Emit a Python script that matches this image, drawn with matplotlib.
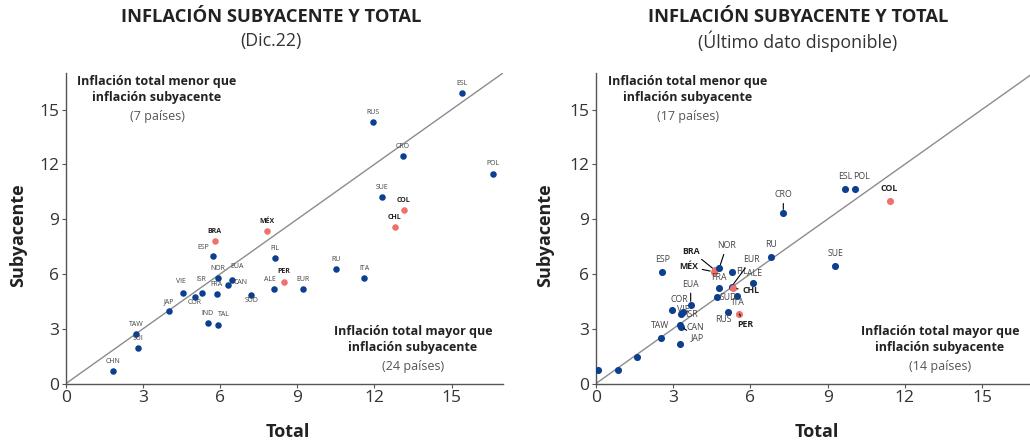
import matplotlib.pyplot as plt

# ---- datos ----
paises_izq = ['ESL', 'RUS', 'CRO', 'POL', 'SUE', 'COL', 'CHL', 'MÉX', 'BRA', 'ESP',
              'FIL', 'RU', 'ITA', 'NOR', 'EUA', 'CAN', 'PER', 'ALE', 'EUR', 'VIE',
              'ISR', 'FRA', 'SUD', 'COR', 'JAP', 'IND', 'TAL', 'TAW', 'SUI', 'CHN']
total_izq = [15.42, 11.95, 13.10, 16.60, 12.31, 13.13, 12.79, 7.82, 5.78, 5.70,
             8.12, 10.51, 11.60, 5.90, 6.45, 6.32, 8.47, 8.10, 9.21, 4.56,
             5.31, 5.86, 7.21, 5.01, 4.01, 5.52, 5.90, 2.73, 2.82, 1.81]
suby_izq = [15.90, 14.30, 12.47, 11.49, 10.19, 9.51, 8.58, 8.34, 7.81, 6.97,
            6.88, 6.27, 5.78, 5.78, 5.69, 5.38, 5.58, 5.18, 5.16, 4.96,
            4.98, 4.90, 4.87, 4.74, 3.97, 3.31, 3.18, 2.69, 1.94, 0.66]

paises_der = ['', '', '', 'TAW', 'CAN', 'JAP', '', 'COR', 'VIE', 'ISR',
              'EUA', 'ESP', 'BRA', 'MÉX', 'NOR', 'FIL', 'EUR', 'CHL', 'FRA', 'ITA',
              'SUD', 'ALE', 'RUS', 'PER', 'RU', 'CRO', 'SUE', 'ESL', 'POL', 'COL']
total_der = [0.08, 0.85, 1.59, 2.51, 3.27, 3.31, 3.26, 2.94, 3.29, 3.39,
             3.68, 2.58, 4.63, 4.57, 4.79, 5.27, 5.27, 5.34, 4.79, 5.49,
             4.69, 6.09, 5.13, 5.57, 6.79, 7.28, 9.29, 9.68, 10.08, 11.41]
suby_der = [0.76, 0.74, 1.45, 2.51, 3.18, 3.12, 2.17, 4.00, 3.81, 3.89,
            4.31, 6.12, 6.20, 6.12, 6.32, 6.12, 5.31, 5.22, 5.22, 4.80,
            4.71, 5.50, 3.94, 3.81, 6.93, 9.34, 6.41, 10.66, 10.66, 9.98]

destacados = ['BRA', 'MÉX', 'CHL', 'COL', 'PER']
ticks = [0, 3, 6, 9, 12, 15]

# desplazamientos de etiquetas (puntos) -- solo estilo
off_izq = {'ESP': (-6.5, 6.5), 'EUA': (3.8, 9.6), 'CAN': (8.6, 2), 'ALE': (-3, 7),
           'VIE': (-1.7, 8), 'ISR': (-1, 9.6), 'SUD': (0, -4.2), 'COR': (0, -4.3),
           'TAL': (4.5, 8)}
off_der = {'POL': (4.6, 9), 'CRO': (0, 13), 'RUS': (-3.4, -6), 'PER': (4, -7.6),
           'ITA': (0, -5), 'SUD': (8.6, 0), 'FRA': (0, 7.4), 'EUA': (0, 14.6),
           'COR': (5.5, 8), 'VIE': (2, 3), 'ISR': (6, -1.7), 'CAN': (11, -1.4),
           'JAP': (11.5, -8), 'BRA': (-17, 13.7), 'MÉX': (-18, 3.6), 'NOR': (5.3, 16),
           'EUR': (14.4, 19.4), 'FIL': (7.5, 0), 'ALE': (1, 7), 'CHL': (12.5, -2)}
lideres_der = ['CRO', 'PER', 'EUA', 'CAN', 'JAP', 'BRA', 'MÉX', 'NOR', 'EUR', 'CHL']

AZUL = '#0d3f8f'
ROJO = '#f0706c'
plt.rcParams['font.family'] = ['Open Sans', 'DejaVu Sans']

fig = plt.figure(figsize=(10.3, 4.43), dpi=100)
ax1 = fig.add_axes([66 / 1030, 1 - 383.5 / 443, 437 / 1030, 310.5 / 443])
ax2 = fig.add_axes([596 / 1030, 1 - 383.5 / 443, 437.4 / 1030, 310.5 / 443])


def panel(ax, paises, tot, sub, offs, lideres, fs, def_up, ms):
    ax.set_xlim(0, 17)
    ax.set_ylim(0, 17)
    ax.plot([0, 17], [0, 17], color='#8c8c8c', lw=1, zorder=1)
    for p, x, y in zip(paises, tot, sub):
        c = ROJO if p in destacados else AZUL
        ax.scatter(x, y, s=ms, color=c, zorder=3, linewidths=0)
        if not p:
            continue
        dx, dy = offs.get(p, (0, def_up))
        bold = 'bold' if p in destacados else 'normal'
        col = '#222222' if p in destacados else '#444444'
        if p in lideres:
            ax.annotate(p, (x, y), xytext=(dx, dy), textcoords='offset points',
                        ha='center', va='center', fontsize=fs, fontweight=bold, color=col,
                        arrowprops=dict(arrowstyle='-', color='black', lw=0.8,
                                        shrinkA=1, shrinkB=2.5))
        else:
            ax.annotate(p, (x, y), xytext=(dx, dy), textcoords='offset points',
                        ha='center', va='center', fontsize=fs, fontweight=bold, color=col)
    for s in ['top', 'right']:
        ax.spines[s].set_visible(False)
    for s in ['left', 'bottom']:
        ax.spines[s].set_color('#555555')
        ax.spines[s].set_linewidth(1)
    ax.set_xticks(ticks)
    ax.set_yticks(ticks)
    ax.tick_params(length=3, width=0.8, color='#555555', labelsize=12.5,
                   labelcolor='#333333', pad=2)


panel(ax1, paises_izq, total_izq, suby_izq, off_izq, [], 5, 7, 22)
panel(ax2, paises_der, total_der, suby_der, off_der, lideres_der, 6.3, 9, 26)


# anotaciones de cuadrantes
def cuadrante(ax, x, y, t1, t2):
    ax.text(x, y, t1, transform=ax.transAxes, ha='center', va='top', fontsize=9,
            fontweight='bold', color='#222222', linespacing=1.3)
    ax.text(x, y - 0.112, t2, transform=ax.transAxes, ha='center', va='top',
            fontsize=9, color='#555555')


cuadrante(ax1, (157 - 66) / 437, 1 - (75 - 73) / 310.5,
          'Inflación total menor que\ninflación subyacente', '(7 países)')
cuadrante(ax1, (413 - 66) / 437, 1 - (325 - 73) / 310.5,
          'Inflación total mayor que\ninflación subyacente', '(24 países)')
cuadrante(ax2, (688 - 596) / 437.4, 1 - (75 - 73) / 310.5,
          'Inflación total menor que\ninflación subyacente', '(17 países)')
cuadrante(ax2, (940 - 596) / 437.4, 1 - (325 - 73) / 310.5,
          'Inflación total mayor que\ninflación subyacente', '(14 países)')

# títulos
for xc, sub in [(271, '(Dic.22)'), (798, '(Último dato disponible)')]:
    fig.text(xc / 1030, 1 - 17 / 443, 'INFLACIÓN SUBYACENTE Y TOTAL', ha='center',
             va='center', fontsize=13.2, fontweight='bold', color='#222222')
    fig.text(xc / 1030, 1 - 41 / 443, sub, ha='center', va='center',
             fontsize=12.8, color='#333333')

# ejes
for xl, yl in [(18, 288), (545, 817)]:
    fig.text(xl / 1030, 1 - 235 / 443, 'Subyacente', rotation=90, ha='center', va='center',
             fontsize=13, fontweight='bold', color='#222222')
    fig.text(yl / 1030, 1 - 432 / 443, 'Total', ha='center', va='center',
             fontsize=13, fontweight='bold', color='#222222')

fig.savefig('out.png', dpi=100)
